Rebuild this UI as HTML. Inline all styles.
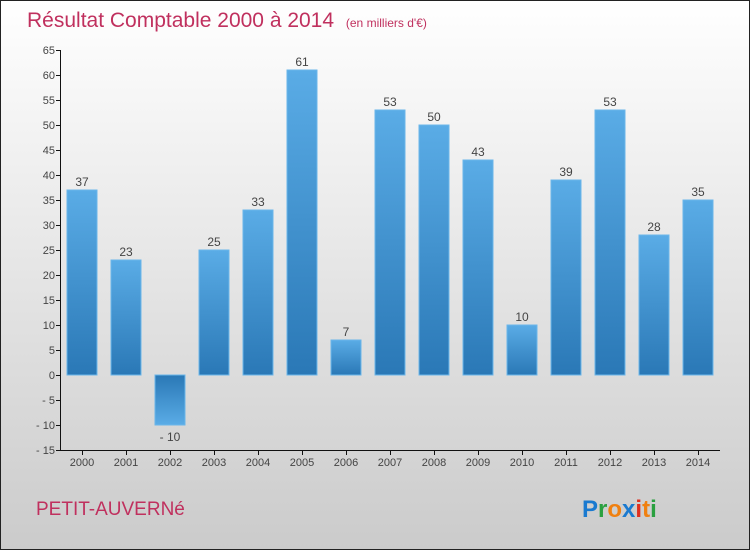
<!DOCTYPE html>
<html><head><meta charset="utf-8"><style>
html,body{margin:0;padding:0;width:750px;height:550px;overflow:hidden}
svg{display:block;font-family:"Liberation Sans",sans-serif}
</style></head><body>
<svg id="chart" width="750" height="550">
<defs>
<linearGradient id="bg" x1="0" y1="0" x2="0" y2="1"><stop offset="0" stop-color="#ffffff"/><stop offset="1" stop-color="#cbcbcb"/></linearGradient>
<linearGradient id="bp" x1="0" y1="0" x2="0" y2="1"><stop offset="0" stop-color="#5aace6"/><stop offset="1" stop-color="#2a78b6"/></linearGradient>
<linearGradient id="bn" x1="0" y1="0" x2="0" y2="1"><stop offset="0" stop-color="#2a78b6"/><stop offset="1" stop-color="#5aace6"/></linearGradient>
</defs>
<rect x="0.5" y="0.5" width="749" height="549" fill="url(#bg)" stroke="#222"/>
<text x="27" y="27" font-size="21" fill="#c0305e">Résultat Comptable 2000 à 2014 <tspan font-size="12" dx="6">(en milliers d'€)</tspan></text>
<g id="grid"></g>
<line x1="60.5" y1="50" x2="60.5" y2="450" stroke="#111"/>
<line x1="60" y1="450.5" x2="720" y2="450.5" stroke="#111"/>
<g id="bars"></g>
<text x="36" y="515" font-size="19" fill="#c0305e">PETIT-AUVERNé</text>
<text x="582" y="517" font-size="24" font-weight="bold"><tspan fill="#1a7ad0">P</tspan><tspan fill="#2aa040">r</tspan><tspan fill="#f08010">o</tspan><tspan fill="#1a7ad0">x</tspan><tspan fill="#e03020">i</tspan><tspan fill="#f08010">t</tspan><tspan fill="#2aa040">i</tspan></text>
</svg>
<script>
const years=["2000","2001","2002","2003","2004","2005","2006","2007","2008","2009","2010","2011","2012","2013","2014"];
const values=[37,23,-10,25,33,61,7,53,50,43,10,39,53,28,35];
const yTicks=[65,60,55,50,45,40,35,30,25,20,15,10,5,0,-5,-10,-15];
const NS="http://www.w3.org/2000/svg";
function y(v){return 375-(v*5);}
function x(i){return 82+i*44;}
function mk(t,a,p){const e=document.createElementNS(NS,t);for(const k in a)e.setAttribute(k,a[k]);p.appendChild(e);return e;}
const g=document.getElementById('grid'),b=document.getElementById('bars');
yTicks.forEach(v=>{
 const l=mk('line',{x1:56,x2:61,y1:y(v)+0.5,y2:y(v)+0.5,stroke:'#111'},g);
 
 
 const t=mk('text',{x:55,y:y(v)+4,'font-size':11,fill:'#444','text-anchor':'end'},g);
 t.textContent=String(v).replace('-','- ');
 
 
});
values.forEach((v,i)=>{
 const top=Math.min(y(v),y(0)),h=Math.abs(y(v)-y(0));
 const r=mk('rect',{x:x(i)-15,y:top,width:30,height:h,fill:v>=0?'url(#bp)':'url(#bn)',stroke:'#6ab6ea','stroke-width':1},b);
 
 
 const vl=mk('text',{x:x(i),y:v>=0?y(v)-4:y(v)+16,'font-size':12,fill:'#444','text-anchor':'middle'},b);
 vl.textContent=String(v).replace('-','- ');
 
 
 const tk=mk('line',{x1:x(i)+0.5,x2:x(i)+0.5,y1:450,y2:455,stroke:'#111'},b);
 
 
 const xl=mk('text',{x:x(i),y:466,'font-size':11,fill:'#444','text-anchor':'middle'},b);
 xl.textContent=years[i];
 
 
});
</script>
</body></html>
